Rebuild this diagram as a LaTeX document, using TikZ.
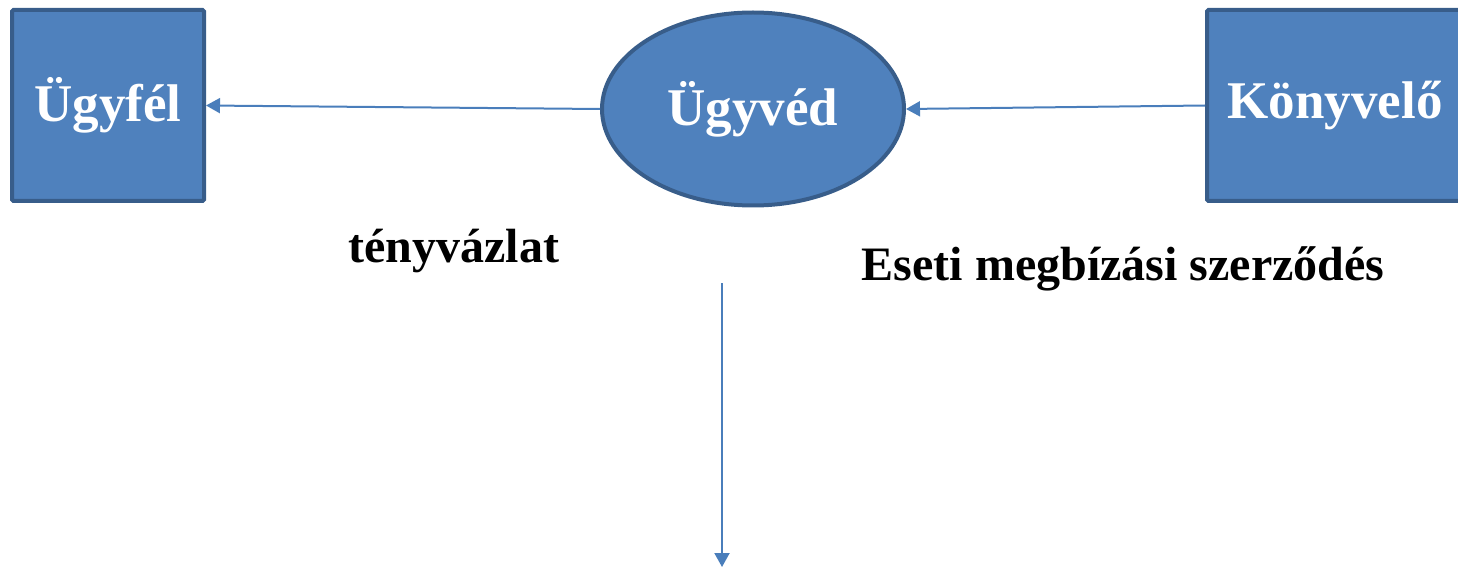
\documentclass[tikz,border=0pt]{standalone}
\usepackage{fontspec}
\setmainfont{Liberation Serif}
\usetikzlibrary{arrows.meta,shapes.geometric}
\definecolor{boxblue}{HTML}{4F81BD}
\definecolor{edgeblue}{HTML}{385D8A}
\definecolor{lineblue}{HTML}{4A7EBB}
\tikzset{
  party/.style={draw=edgeblue,fill=boxblue,line width=4pt,rounded corners=1.5pt,
    text=white,font=\fontsize{53}{60}\selectfont\bfseries,inner sep=0pt},
  flow/.style={lineblue,line width=2pt,-{Triangle[length=14pt,width=15pt]}},
  note/.style={font=\fontsize{48}{56}\selectfont\bfseries,anchor=base}
}
\begin{document}
\begin{tikzpicture}[x=1pt,y=-1pt]
\useasboundingbox (0,0) rectangle (1458,569);
\node[party,minimum width=192pt,minimum height=191pt] (ugyfel) at (108,105.5) {Ügyfél};
\node[party,ellipse,minimum width=302pt,minimum height=193pt] (ugyved) at (753,109) {Ügyvéd};
\node[party,minimum width=256pt,minimum height=191pt] (konyvelo) at (1335,105.5) {Könyvelő};
\draw[flow] (ugyved.west) -- (ugyfel.east);
\draw[flow] (konyvelo.west) -- (ugyved.east);
\coordinate (down top) at (722,283);
\coordinate (down end) at (722,567);
\draw[flow] (down top) -- (down end);
\node[note] (teny) at (454,262) {tényvázlat};
\node[note] (eseti) at (1123,280) {Eseti megbízási szerződés};
\end{tikzpicture}
\end{document}
